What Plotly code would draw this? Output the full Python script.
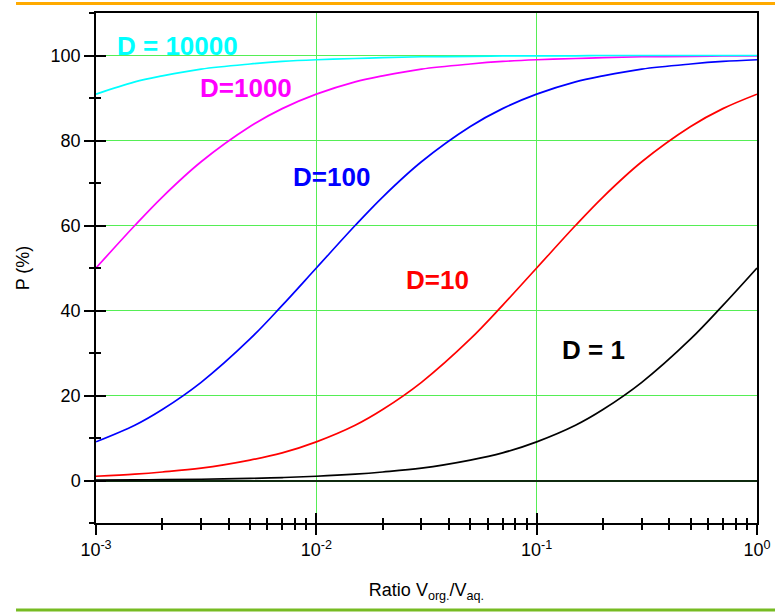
import plotly.graph_objects as go

# Ratio V_org./V_aq. (x) and extraction P (%)
ratio = [0.001, 0.0015, 0.002, 0.003, 0.005, 0.007, 0.01, 0.015, 0.02, 0.03,
         0.05, 0.07, 0.1, 0.15, 0.2, 0.3, 0.5, 0.7, 1.0]

p_d1 = [0.1, 0.15, 0.2, 0.3, 0.5, 0.7, 1.0, 1.5, 2.0, 2.9,
        4.8, 6.5, 9.1, 13.0, 16.7, 23.1, 33.3, 41.2, 50.0]
p_d10 = [1.0, 1.5, 2.0, 2.9, 4.8, 6.5, 9.1, 13.0, 16.7, 23.1,
         33.3, 41.2, 50.0, 60.0, 66.7, 75.0, 83.3, 87.5, 90.9]
p_d100 = [9.1, 13.0, 16.7, 23.1, 33.3, 41.2, 50.0, 60.0, 66.7, 75.0,
          83.3, 87.5, 90.9, 93.8, 95.2, 96.8, 98.0, 98.6, 99.0]
p_d1000 = [50.0, 60.0, 66.7, 75.0, 83.3, 87.5, 90.9, 93.8, 95.2, 96.8,
           98.0, 98.6, 99.0, 99.3, 99.5, 99.7, 99.8, 99.9, 99.9]
p_d10000 = [90.9, 93.8, 95.2, 96.8, 98.0, 98.6, 99.0, 99.3, 99.5, 99.7,
            99.8, 99.9, 99.9, 99.9, 100.0, 100.0, 100.0, 100.0, 100.0]

series_names = ["D = 1", "D=10", "D=100", "D=1000", "D = 10000"]
series_values = [p_d1, p_d10, p_d100, p_d1000, p_d10000]
series_colors = ["#000000", "#ff0000", "#0000ff", "#ff00ff", "#00ffff"]

# label anchor positions (log10 ratio, P)
label_x = [-0.744, -1.452, -1.929, -2.319, -2.628]
label_y = [30.8, 47.2, 71.4, 92.3, 102.3]

x_tickvals = [0.001, 0.01, 0.1, 1]
x_ticktext = ["10<sup>-3</sup>", "10<sup>-2</sup>", "10<sup>-1</sup>", "10<sup>0</sup>"]

FONT = "Liberation Sans, Arial, sans-serif"
GRID = "#55ee55"

fig = go.Figure()
for i, (name, vals, col) in enumerate(zip(series_names, series_values, series_colors)):
    fig.add_trace(go.Scatter(
        x=ratio, y=vals, mode="lines", name=name,
        line=dict(color=col, width=1.7, shape="spline", smoothing=1.0),
        xaxis="x2" if i == 0 else "x", yaxis="y2" if i == 0 else "y",
        showlegend=False, hoverinfo="skip"))

for name, col, lx, ly in zip(series_names, series_colors, label_x, label_y):
    fig.add_annotation(x=lx, y=ly, xref="x", yref="y", text="<b>%s</b>" % name,
                       showarrow=False, font=dict(family=FONT, size=26, color=col))

common_x = dict(type="log", range=[-3, 0], automargin=False)
fig.update_layout(
    width=775, height=612,
    margin=dict(l=96, r=18, t=13, b=89, autoexpand=False),
    paper_bgcolor="white", plot_bgcolor="white",
    font=dict(family=FONT, size=18, color="black"),
    xaxis=dict(**common_x, tickvals=x_tickvals, ticktext=x_ticktext,
               ticks="outside", ticklen=10, tickwidth=1.5, tickcolor="black",
               minor=dict(ticks="outside", ticklen=5, tickwidth=1.5, tickcolor="black",
                          dtick="D1", showgrid=False),
               showgrid=True, gridcolor=GRID, gridwidth=1.3,
               showline=True, linecolor="black", linewidth=1.5, mirror=True,
               zeroline=False,
               title=dict(text="Ratio V<sub>org.</sub>/V<sub>aq.</sub>",
                          font=dict(size=18), standoff=24)),
    xaxis2=dict(**common_x, overlaying="x", anchor="y", side="bottom",
                tickvals=x_tickvals, showticklabels=False,
                ticks="inside", ticklen=10, tickwidth=1.5, tickcolor="black",
                minor=dict(ticks="inside", ticklen=5, tickwidth=1.5, tickcolor="black",
                           dtick="D1", showgrid=False),
                showgrid=False, gridcolor=GRID, showline=False, zeroline=False),
    yaxis=dict(range=[-10, 110], tick0=0, dtick=20, automargin=False,
               ticks="outside", ticklen=10, tickwidth=1.5, tickcolor="black",
               minor=dict(ticks="outside", ticklen=5, tickwidth=1.5, tickcolor="black",
                          tick0=-10, dtick=20, showgrid=False),
               showgrid=True, gridcolor=GRID, gridwidth=1.3,
               showline=True, linecolor="black", linewidth=1.5, mirror=True,
               zeroline=True, zerolinecolor="#0f2a0f", zerolinewidth=1.5,
               title=dict(text="P (%)", font=dict(size=18), standoff=16)),
    yaxis2=dict(range=[-10, 110], tick0=0, dtick=20, overlaying="y", anchor="x", side="left",
                automargin=False, showticklabels=False,
                ticks="inside", ticklen=10, tickwidth=1.5, tickcolor="black",
                minor=dict(ticks="inside", ticklen=5, tickwidth=1.5, tickcolor="black",
                           tick0=-10, dtick=20, showgrid=False),
                showgrid=False, gridcolor=GRID, showline=False, zeroline=False),
)

# decorative frame lines of the slide (orange top, green bottom)
fig.add_shape(type="line", xref="paper", yref="paper", x0=-0.121, x1=1.03,
              y0=1.0186, y1=1.0186, line=dict(color="#ffaa00", width=3))
fig.add_shape(type="line", xref="paper", yref="paper", x0=-0.121, x1=1.03,
              y0=-0.1706, y1=-0.1706, line=dict(color="#77bb22", width=3))

fig.write_html("out.html", config={"displayModeBar": False},
               post_script="document.body.style.margin='0';document.body.style.overflow='hidden';")
